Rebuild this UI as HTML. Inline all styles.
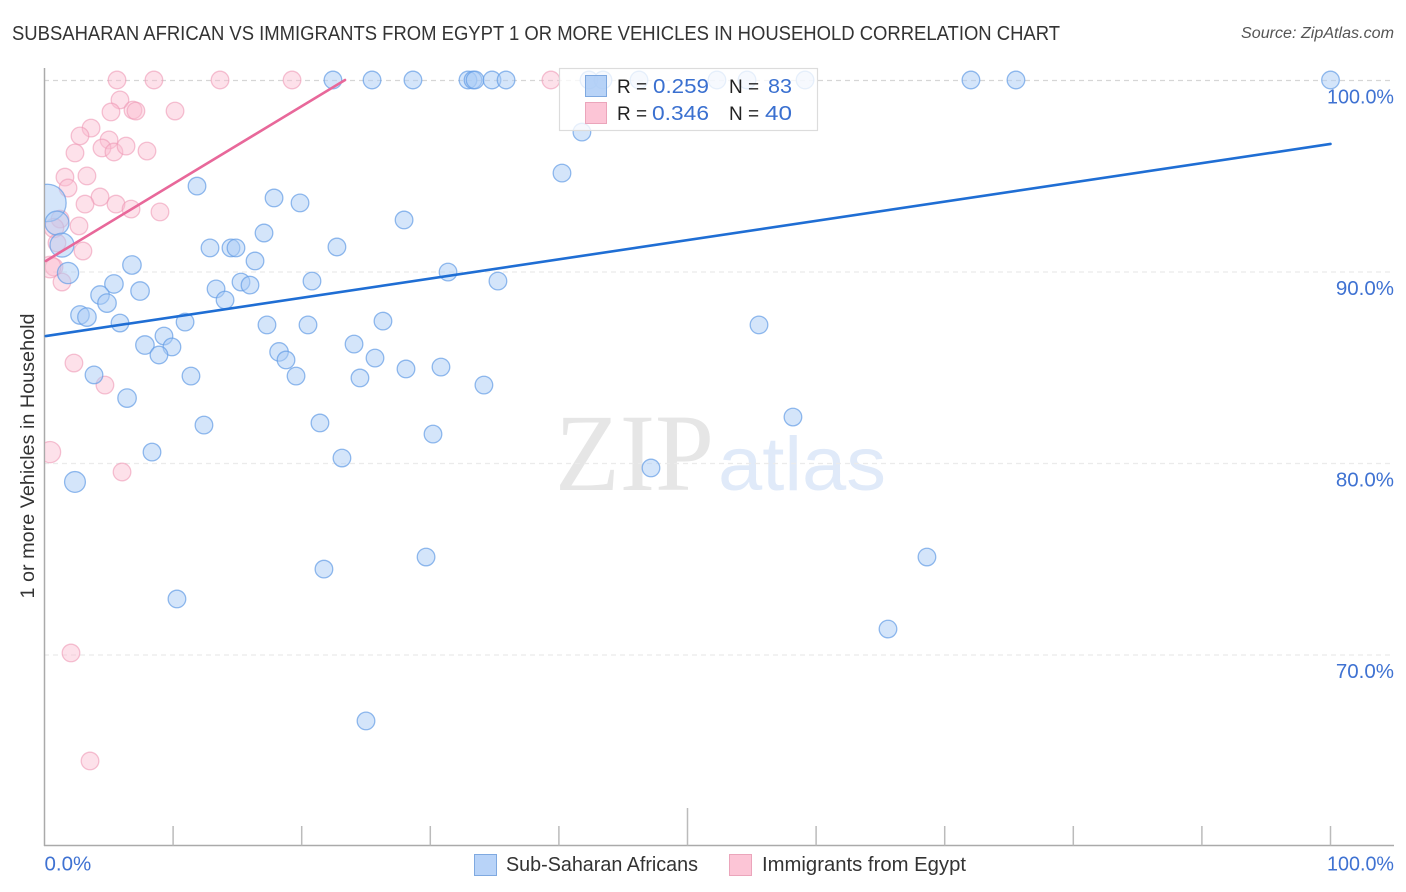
<!DOCTYPE html>
<html lang="en">
<head>
<meta charset="utf-8">
<title>Subsaharan African vs Immigrants from Egypt correlation chart</title>
<style>
html,body{margin:0;padding:0;background:#fff;}
svg{display:block;font-family:"Liberation Sans",sans-serif;}
</style>
</head>
<body>
<svg id="chart" width="1406" height="892" viewBox="0 0 1406 892" xmlns="http://www.w3.org/2000/svg">
  <defs>
    <clipPath id="plot-clip"><rect x="45" y="60" width="1361" height="786"/></clipPath>
  </defs>
  <rect width="1406" height="892" fill="#fff"/>
  <text x="12" y="40" font-size="20" fill="#333" textLength="1048" lengthAdjust="spacingAndGlyphs">SUBSAHARAN AFRICAN VS IMMIGRANTS FROM EGYPT 1 OR MORE VEHICLES IN HOUSEHOLD CORRELATION CHART</text>
  <text x="1394" y="38" font-size="15.5" font-style="italic" fill="#555" text-anchor="end" textLength="153" lengthAdjust="spacingAndGlyphs">Source: ZipAtlas.com</text>
  <text transform="translate(34,456) rotate(-90)" font-size="19" fill="#333" text-anchor="middle" textLength="285" lengthAdjust="spacingAndGlyphs">1 or more Vehicles in Household</text>

  <g>
    <text x="555" y="490" font-family="'Liberation Serif',serif" font-size="110" fill="#e6e6e6" textLength="159" lengthAdjust="spacingAndGlyphs">ZIP</text>
    <text x="718" y="490" font-size="76" fill="#e0eaf9" textLength="168" lengthAdjust="spacingAndGlyphs">atlas</text>
  </g>

  <g id="grid"></g>
  <g id="axes"></g>
  <g id="points" clip-path="url(#plot-clip)"></g>
  <g id="trends"></g>

  <g>
    <rect x="559.5" y="68.5" width="258" height="62" fill="#fff" fill-opacity="0.78" stroke="#dcdcdc" stroke-width="1.2"/>
    <rect x="585.5" y="75.5" width="21" height="21" fill="#a6c8f5" fill-opacity="0.8" stroke="#7fa9e0"/>
    <rect x="585.5" y="102.5" width="21" height="21" fill="#fcc5d6" stroke="#eba5bb"/>
    <text x="617" y="93" font-size="19" fill="#222">R =</text>
    <text x="653" y="93" font-size="20.5" fill="#3a70d0" textLength="56" lengthAdjust="spacingAndGlyphs">0.259</text>
    <text x="729" y="93" font-size="19" fill="#222">N =</text>
    <text x="768" y="93" font-size="20.5" fill="#3a70d0" textLength="24" lengthAdjust="spacingAndGlyphs">83</text>
    <text x="617" y="120" font-size="19" fill="#222">R =</text>
    <text x="652" y="120" font-size="20.5" fill="#3a70d0" textLength="57" lengthAdjust="spacingAndGlyphs">0.346</text>
    <text x="729" y="120" font-size="19" fill="#222">N =</text>
    <text x="765" y="120" font-size="20.5" fill="#3a70d0" textLength="27" lengthAdjust="spacingAndGlyphs">40</text>
  </g>

  <g>
    <rect x="474.5" y="854.5" width="22" height="21" fill="#b8d3f8" stroke="#7fa9e0"/>
    <text x="506" y="871" font-size="20" fill="#333" textLength="192" lengthAdjust="spacingAndGlyphs">Sub-Saharan Africans</text>
    <rect x="729.5" y="854.5" width="22" height="21" fill="#fcc5d6" stroke="#eba5bb"/>
    <text x="762" y="871" font-size="20" fill="#333" textLength="204" lengthAdjust="spacingAndGlyphs">Immigrants from Egypt</text>
  </g>
</svg>
<script>
const blueX = [22.43,25.47,28.65,32.93,33.32,33.48,34.80,35.89,42.34,43.43,46.23,52.29,54.63,59.14,72.04,75.54,100,
  0.23,0.97,1.36,1.83,2.37,41.79,40.24,11.86,17.85,19.87,27.96,17.07,12.87,14.50,14.89,22.74,16.37,6.80,31.38,20.80,35.26,15.28,15.98,5.40,7.43,13.34,4.32,4.86,14.04,2.76,3.30,5.87,10.93,17.30,20.49,26.32,55.56,9.29,7.81,9.91,8.90,24.07,18.24,18.78,25.70,28.11,30.83,3.85,11.39,19.56,24.53,34.17,6.42,58.20,12.40,21.42,30.21,8.36,23.13,47.16,29.67,68.62,21.73,10.30,65.59,25.00];
const blueY = [100,100,100,100,100,100,100,100,100,100,100,100,100,100,100,100,100,
  93.58,92.53,91.38,89.92,79.01,97.28,95.14,94.46,93.84,93.58,92.69,92.01,91.23,91.23,91.23,91.28,90.55,90.34,89.97,89.50,89.50,89.45,89.29,89.35,88.98,89.09,88.77,88.35,88.51,87.73,87.62,87.31,87.36,87.21,87.21,87.41,87.21,86.63,86.16,86.06,85.64,86.21,85.80,85.38,85.48,84.91,85.01,84.60,84.54,84.54,84.44,84.07,83.39,82.40,81.98,82.09,81.51,80.57,80.26,79.74,75.09,75.09,74.46,72.90,71.33,66.53];
const blueWeight = [1,1,1,1,1,1,1,1,1,1,1,1,1,1,1,1,1,
  4.5,1.85,1.85,1.45,1.4,1,1,1,1,1,1,1,1,1,1,1,1,1.1,1,1,1,1,1,1.1,1.1,1,1.1,1.1,1,1.1,1.1,1,1,1,1,1,1,1,1.1,1,1,1,1.1,1,1,1,1,1,1,1,1,1,1.1,1,1,1,1,1,1,1,1,1,1,1,1,1];

const pinkX = [5.64,8.51,13.65,19.25,39.38,5.87,5.17,6.88,7.11,10.15,3.62,2.76,2.37,5.02,4.47,5.40,6.34,7.97,1.59,3.30,1.83,4.32,3.15,5.56,6.73,8.98,2.68,1.21,0.74,0.97,2.99,0.74,0.43,1.36,2.29,4.70,0.43,6.03,2.06,3.54];
const pinkY = [100,100,100,100,100,98.96,98.33,98.43,98.38,98.38,97.49,97.08,96.19,96.87,96.45,96.24,96.55,96.29,94.93,94.99,94.36,93.89,93.52,93.52,93.26,93.11,92.38,92.74,92.27,91.49,91.07,90.23,90.23,89.45,85.22,84.07,80.57,79.53,70.08,64.44];
const pinkWeight = [1,1,1,1,1,1,1,1,1,1,1,1,1,1,1,1,1,1,1,1,1,1,1,1,1,1,1,1,1.2,1,1,1,1.5,1,1,1,1.45,1,1,1];

const blueTrendX = [0.1,100];
const blueTrendY = [86.63,96.66];
const pinkTrendX = [0.1,23.37];
const pinkTrendY = [90.55,100];

const yTickValues = [100,90,80,70];
const yTickLabels = ["100.0%","90.0%","80.0%","70.0%"];
const xTickValues = [10,20,30,40,50,60,70,80,90,100];
const xEndValues = [0,100];
const xEndLabels = ["0.0%","100.0%"];

const SVGNS = "http://www.w3.org/2000/svg";
function xScale(v){ return 44.5 + v * 12.86; }
function yScale(v){ return 80 + (100 - v) * 19.15; }
function rScale(w){ return 8.8 * Math.sqrt(w); }
function make(tag, attrs, parent){
  const el = document.createElementNS(SVGNS, tag);
  for (const k in attrs) el.setAttribute(k, attrs[k]);
  parent.appendChild(el);
  return el;
}
function fitWide(label, text){
  if (text.length === 6) {
    label.setAttribute("textLength", 67);
    label.setAttribute("lengthAdjust", "spacingAndGlyphs");
  }
}

const grid = document.getElementById("grid");
const axes = document.getElementById("axes");
const pts = document.getElementById("points");
const trends = document.getElementById("trends");

yTickValues.forEach(function(v, i){
  const line = make("line", {x1:44, x2:1394, y1:yScale(v)+0.5, y2:yScale(v)+0.5, stroke: i===0 ? "#d6d6d6" : "#ebebeb", "stroke-width":1.2, "stroke-dasharray":"5 4"}, grid);
  
  
  const label = make("text", {x:1394, y:yScale(v)+23.5, "font-size":20.5, fill:"#3f72d2", "text-anchor":"end"}, axes);
  label.textContent = yTickLabels[i];
  fitWide(label, yTickLabels[i]);
  
  
});

const yAxis = make("line", {x1:44.5, x2:44.5, y1:68, y2:846, stroke:"#aaa", "stroke-width":1.5}, axes);


const xAxis = make("line", {x1:44, x2:1394, y1:845.5, y2:845.5, stroke:"#aaa", "stroke-width":1.5}, axes);



xTickValues.forEach(function(v){
  const tick = make("line", {x1:xScale(v), x2:xScale(v), y1: v===50 ? 808 : 826, y2:845.5, stroke:"#bbb", "stroke-width":1.5}, axes);
  
  
});
xEndValues.forEach(function(v, i){
  const label = make("text", {x: v===0 ? xScale(v) : 1394, y:870.5, "font-size":20.5, fill:"#3f72d2", "text-anchor": v===0 ? "start" : "end"}, axes);
  label.textContent = xEndLabels[i];
  fitWide(label, xEndLabels[i]);
  
  
});

pinkX.forEach(function(v, i){
  const c = make("circle", {cx:xScale(v), cy:yScale(pinkY[i]), r:rScale(pinkWeight[i]), fill:"#fbbdd0", "fill-opacity":0.45, stroke:"#ee9ab6", "stroke-opacity":0.6, "stroke-width":1.3}, pts);
  
  
});
blueX.forEach(function(v, i){
  const c = make("circle", {cx:xScale(v), cy:yScale(blueY[i]), r:rScale(blueWeight[i]), fill:"#a9cbf5", "fill-opacity":0.5, stroke:"#649ce6", "stroke-opacity":0.7, "stroke-width":1.3}, pts);
  
  
});

const blueLine = make("line", {x1:xScale(blueTrendX[0]), y1:yScale(blueTrendY[0]), x2:xScale(blueTrendX[1]), y2:yScale(blueTrendY[1]), stroke:"#1f6ed4", "stroke-width":2.6, "stroke-linecap":"round"}, trends);


const pinkLine = make("line", {x1:xScale(pinkTrendX[0]), y1:yScale(pinkTrendY[0]), x2:xScale(pinkTrendX[1]), y2:yScale(pinkTrendY[1]), stroke:"#e8689a", "stroke-width":2.6, "stroke-linecap":"round"}, trends);


</script>
</body>
</html>
